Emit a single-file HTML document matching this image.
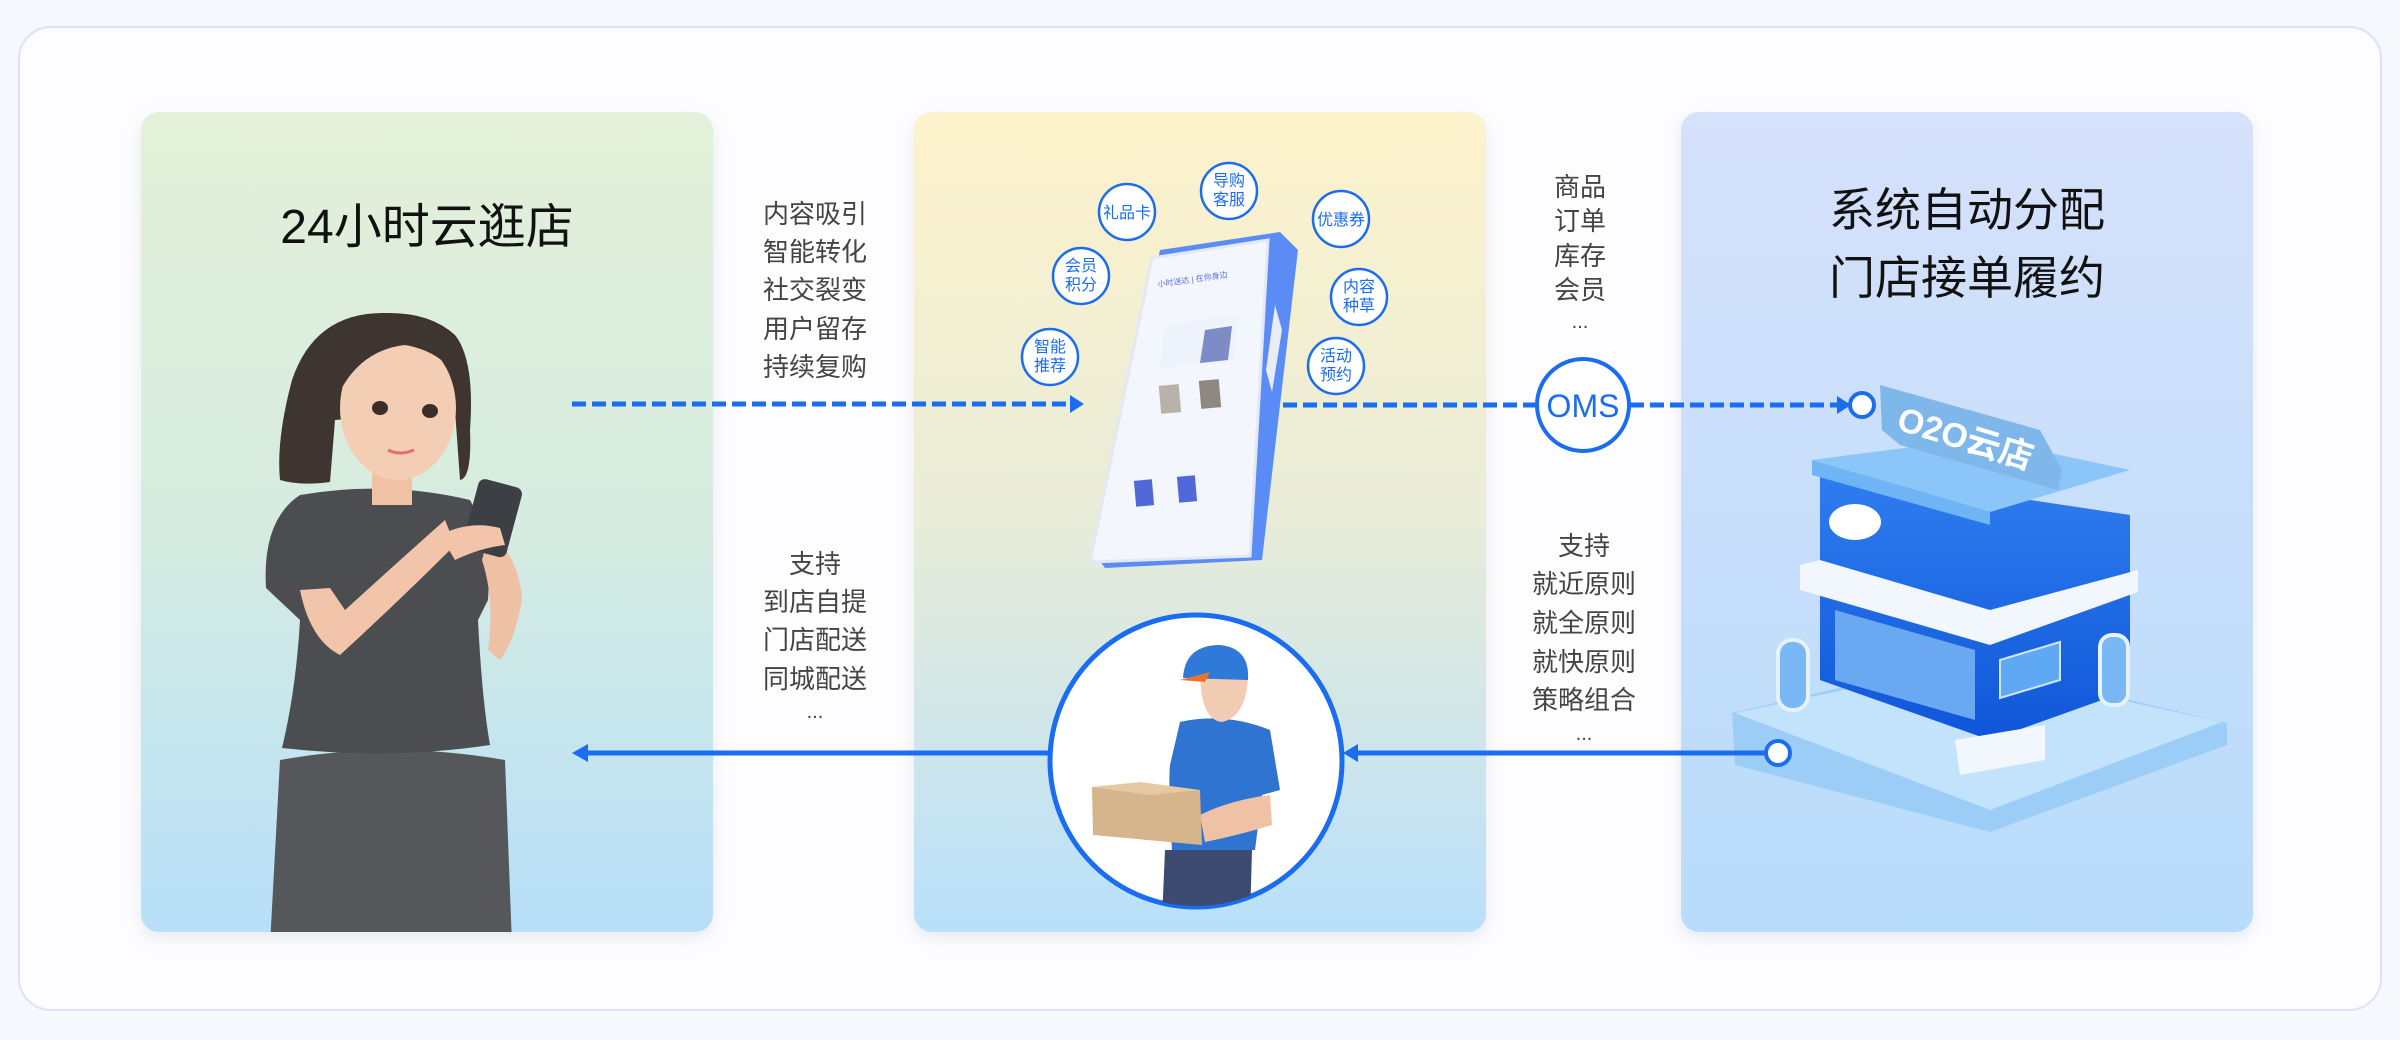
<!DOCTYPE html>
<html><head><meta charset="utf-8"><style>
html,body{margin:0;padding:0;background:#f6f8fd;}
body{width:2400px;height:1035px;overflow:hidden;}
svg text{font-family:"Liberation Sans","Noto Sans CJK SC",sans-serif;}
</style></head><body>
<svg width="2400" height="1035" viewBox="0 0 2400 1035" xmlns="http://www.w3.org/2000/svg">
<defs>
<linearGradient id="gL" x1="0" y1="0" x2="0" y2="1"><stop offset="0" stop-color="#e4f0d9"/><stop offset="0.5" stop-color="#d6ece0"/><stop offset="1" stop-color="#b7dffa"/></linearGradient>
<linearGradient id="gM" x1="0" y1="0" x2="0" y2="1"><stop offset="0" stop-color="#fdf2cb"/><stop offset="0.5" stop-color="#e8ecd8"/><stop offset="1" stop-color="#b8e0fb"/></linearGradient>
<linearGradient id="gR" x1="0" y1="0" x2="0" y2="1"><stop offset="0" stop-color="#d6e1fb"/><stop offset="1" stop-color="#b8dcfb"/></linearGradient>
<linearGradient id="gB" x1="0" y1="0" x2="0" y2="1"><stop offset="0" stop-color="#2f7ef0"/><stop offset="1" stop-color="#0f56d8"/></linearGradient>
<filter id="sh" x="-10%" y="-10%" width="120%" height="120%"><feDropShadow dx="0" dy="6" stdDeviation="8" flood-color="#8090b0" flood-opacity="0.18"/></filter>
<clipPath id="cc"><circle cx="1196" cy="761" r="145"/></clipPath>
<clipPath id="cl"><rect x="141" y="112" width="572" height="820" rx="18"/></clipPath>
</defs>
<rect x="19" y="27" width="2362" height="983" rx="32" fill="#fdfdff" stroke="#d9e3fb" stroke-width="2"/>
<rect x="141" y="112" width="572" height="820" rx="18" fill="url(#gL)" filter="url(#sh)"/>
<rect x="914" y="112" width="572" height="820" rx="18" fill="url(#gM)" filter="url(#sh)"/>
<rect x="1681" y="112" width="572" height="820" rx="18" fill="url(#gR)" filter="url(#sh)"/>

<text x="427" y="243" font-size="48" text-anchor="middle" fill="#111">24小时云逛店</text>
<text x="1967" y="226" font-size="46" text-anchor="middle" fill="#111">系统自动分配</text>
<text x="1967" y="294" font-size="46" text-anchor="middle" fill="#111">门店接单履约</text>

<g font-size="26" fill="#444" text-anchor="middle">
<text x="815" y="223">内容吸引</text><text x="815" y="261">智能转化</text><text x="815" y="299">社交裂变</text><text x="815" y="338">用户留存</text><text x="815" y="376">持续复购</text>
<text x="1580" y="196">商品</text><text x="1580" y="230">订单</text><text x="1580" y="265">库存</text><text x="1580" y="299">会员</text><text x="1580" y="328" font-size="20">...</text>
<text x="815" y="573">支持</text><text x="815" y="611">到店自提</text><text x="815" y="649">门店配送</text><text x="815" y="688">同城配送</text><text x="815" y="718" font-size="20">...</text>
<text x="1584" y="555">支持</text><text x="1584" y="593">就近原则</text><text x="1584" y="632">就全原则</text><text x="1584" y="671">就快原则</text><text x="1584" y="709">策略组合</text><text x="1584" y="740" font-size="20">...</text>
</g>

<!-- woman -->
<g clip-path="url(#cl)">
<path d="M270 945 L280 760 Q390 740 505 760 L512 945 Z" fill="#55575b"/>
<path d="M300 495 Q385 480 470 500 Q492 540 488 600 L478 620 Q482 700 490 745 Q390 760 282 748 Q296 690 300 620 L266 588 Q262 520 300 495 Z" fill="#4b4d50"/>
<path d="M300 590 Q310 640 340 655 Q400 600 455 545 L445 520 Q400 560 345 610 L330 588 Z" fill="#f2c5aa"/>
<path d="M490 530 Q520 560 522 600 Q515 640 500 660 L488 650 Q495 600 482 560 Z" fill="#eec0a4"/>
<rect x="470" y="482" width="45" height="72" rx="7" fill="#3c3f44" transform="rotate(15 492 518)"/>
<path d="M440 535 Q470 520 500 528 L505 545 Q480 548 455 560 Z" fill="#f2c5aa"/>
<rect x="372" y="455" width="40" height="50" fill="#efc2a5"/>
<path d="M385 313 Q315 312 292 380 Q276 440 280 480 Q300 486 330 482 L335 420 L455 410 L460 480 Q472 478 470 430 Q475 360 455 335 Q430 312 385 313 Z" fill="#3e3430"/>
<ellipse cx="398" cy="408" rx="58" ry="72" fill="#f4cdb5"/>
<path d="M338 395 Q345 335 400 330 Q450 332 462 385 Q445 352 405 345 Q360 350 338 395 Z" fill="#3e3430"/>
<ellipse cx="380" cy="408" rx="8" ry="7" fill="#3a2e2a"/><ellipse cx="430" cy="411" rx="8" ry="7" fill="#3a2e2a"/>
<path d="M388 450 Q400 456 414 450" stroke="#e07070" stroke-width="3" fill="none"/>
</g>

<!-- phone -->
<polygon points="1160,250 1280,232 1298,250 1262,560 1105,568 1092,550" fill="#5b8cf5"/>
<polygon points="1152,258 1268,240 1250,556 1090,562" fill="#f3f6fd" stroke="#e2e8f6" stroke-width="3"/>
<polygon points="1275,305 1282,330 1272,392 1266,370" fill="#e8ecf4"/>
<g font-size="8" fill="#5b6fd0"><text x="1158" y="287" transform="rotate(-8 1158 287)">小时送达 | 在你身边</text></g>
<polygon points="1165,325 1238,315 1234,360 1160,368" fill="#eef2fb"/>
<polygon points="1205,330 1232,326 1228,360 1200,363" fill="#7d8cc4"/>
<rect x="1160" y="385" width="20" height="28" fill="#b9b2aa" transform="rotate(-5 1170 400)"/>
<rect x="1200" y="380" width="20" height="28" fill="#8e8880" transform="rotate(-5 1210 394)"/>
<rect x="1135" y="480" width="18" height="26" fill="#5268d8" transform="rotate(-5 1144 493)"/>
<rect x="1178" y="476" width="18" height="26" fill="#5268d8" transform="rotate(-5 1187 489)"/>

<!-- bubbles -->
<g fill="#fff" stroke="#1a6cf0" stroke-width="2.5">
<circle cx="1127" cy="212" r="28"/><circle cx="1081" cy="276" r="28"/><circle cx="1050" cy="357" r="28"/>
<circle cx="1229" cy="191" r="28"/><circle cx="1341" cy="219" r="28"/><circle cx="1359" cy="297" r="28"/><circle cx="1336" cy="366" r="28"/>
</g>
<g font-size="16" fill="#1a6cf0" text-anchor="middle">
<text x="1127" y="218">礼品卡</text>
<text x="1081" y="271">会员</text><text x="1081" y="290">积分</text>
<text x="1050" y="352">智能</text><text x="1050" y="371">推荐</text>
<text x="1229" y="186">导购</text><text x="1229" y="205">客服</text>
<text x="1341" y="225">优惠券</text>
<text x="1359" y="292">内容</text><text x="1359" y="311">种草</text>
<text x="1336" y="361">活动</text><text x="1336" y="380">预约</text>
</g>

<!-- store -->
<g>
<polygon points="1732,713 1960,660 2227,723 2227,745 1990,832 1735,765" fill="#9ccdf6"/>
<polygon points="1735,713 1960,665 2222,722 1990,810" fill="#c3e2fb"/>
<polygon points="1820,475 1830,470 2130,515 2130,690 1990,740 1820,680" fill="url(#gB)"/>
<polygon points="1812,460 1980,438 2130,470 1990,512" fill="#8cc6f8"/>
<polygon points="1812,460 1990,512 1990,525 1812,475" fill="#6fb4f4"/>
<polygon points="1800,565 1820,560 1990,610 2138,570 2138,592 1990,645 1800,590" fill="#f2f7fe"/>
<ellipse cx="1855" cy="522" rx="26" ry="18" fill="#fff"/>
<polygon points="1835,610 1975,650 1975,720 1835,680" fill="#6aa9f2"/>
<polygon points="2000,660 2060,642 2060,680 2000,698" fill="#5fa8f3" stroke="#cfe6fd" stroke-width="2"/>
<rect x="1778" y="640" width="30" height="70" rx="14" fill="#7ab8f5" stroke="#e6f2fe" stroke-width="4"/>
<rect x="2100" y="635" width="28" height="70" rx="12" fill="#7ab8f5" stroke="#e6f2fe" stroke-width="4"/>
<polygon points="1955,740 2045,725 2045,760 1960,775" fill="#f2f7fe"/>
<polygon points="1880,385 2040,430 2062,470 2058,490 1900,445 1882,430" fill="#7fb7ea"/>
<text x="1965" y="450" font-size="34" font-weight="bold" fill="#fff" text-anchor="middle" transform="rotate(17 1965 440)">O2O云店</text>
</g>

<!-- courier -->
<circle cx="1196" cy="761" r="146" fill="#fff" stroke="#1a6cf0" stroke-width="5"/>
<g clip-path="url(#cc)">
<path d="M1165 850 L1252 850 L1250 920 L1162 920 Z" fill="#3b4a6e"/>
<path d="M1180 722 Q1225 712 1270 730 L1280 790 L1262 795 L1255 850 L1172 850 Q1168 790 1170 765 Z" fill="#2f74d0"/>
<path d="M1200 670 Q1200 720 1222 722 Q1248 716 1248 672 Z" fill="#f3cdb3"/>
<path d="M1183 678 Q1185 645 1220 645 Q1250 648 1248 680 Z" fill="#2f7ad8"/>
<path d="M1180 680 L1210 672 L1205 682 Z" fill="#e9722c"/>
<path d="M1200 815 Q1230 800 1270 795 L1272 825 Q1240 835 1205 842 Z" fill="#efc2a5"/>
<polygon points="1092,787 1200,790 1202,845 1093,835" fill="#d6b48c"/>
<polygon points="1092,787 1140,782 1200,790 1150,795" fill="#e6c9a3"/>
</g>

<!-- connectors -->
<g stroke="#1a6cf0" stroke-width="5" fill="none">
<line x1="572" y1="404" x2="1073" y2="404" stroke-dasharray="14 6"/>
<line x1="1283" y1="405" x2="1536" y2="405" stroke-dasharray="14 6"/>
<line x1="1630" y1="405" x2="1840" y2="405" stroke-dasharray="14 6"/>
<line x1="1765" y1="753" x2="1355" y2="753"/>
<line x1="1049" y1="753" x2="586" y2="753"/>
</g>
<g fill="#1a6cf0">
<polygon points="1084,404 1070,395 1070,413"/>
<polygon points="1851,405 1837,396 1837,414"/>
<polygon points="1343,753 1358,744 1358,762"/>
<polygon points="572,753 588,744 588,762"/>
</g>
<circle cx="1583" cy="405" r="46" fill="#fff" stroke="#1a6cf0" stroke-width="4"/>
<text x="1583" y="417" font-size="32" fill="#1a6cf0" text-anchor="middle">OMS</text>
<circle cx="1862" cy="405" r="12" fill="#fff" stroke="#1a6cf0" stroke-width="4"/>
<circle cx="1778" cy="753" r="12" fill="#fff" stroke="#1a6cf0" stroke-width="4"/>
</svg>
</body></html>
